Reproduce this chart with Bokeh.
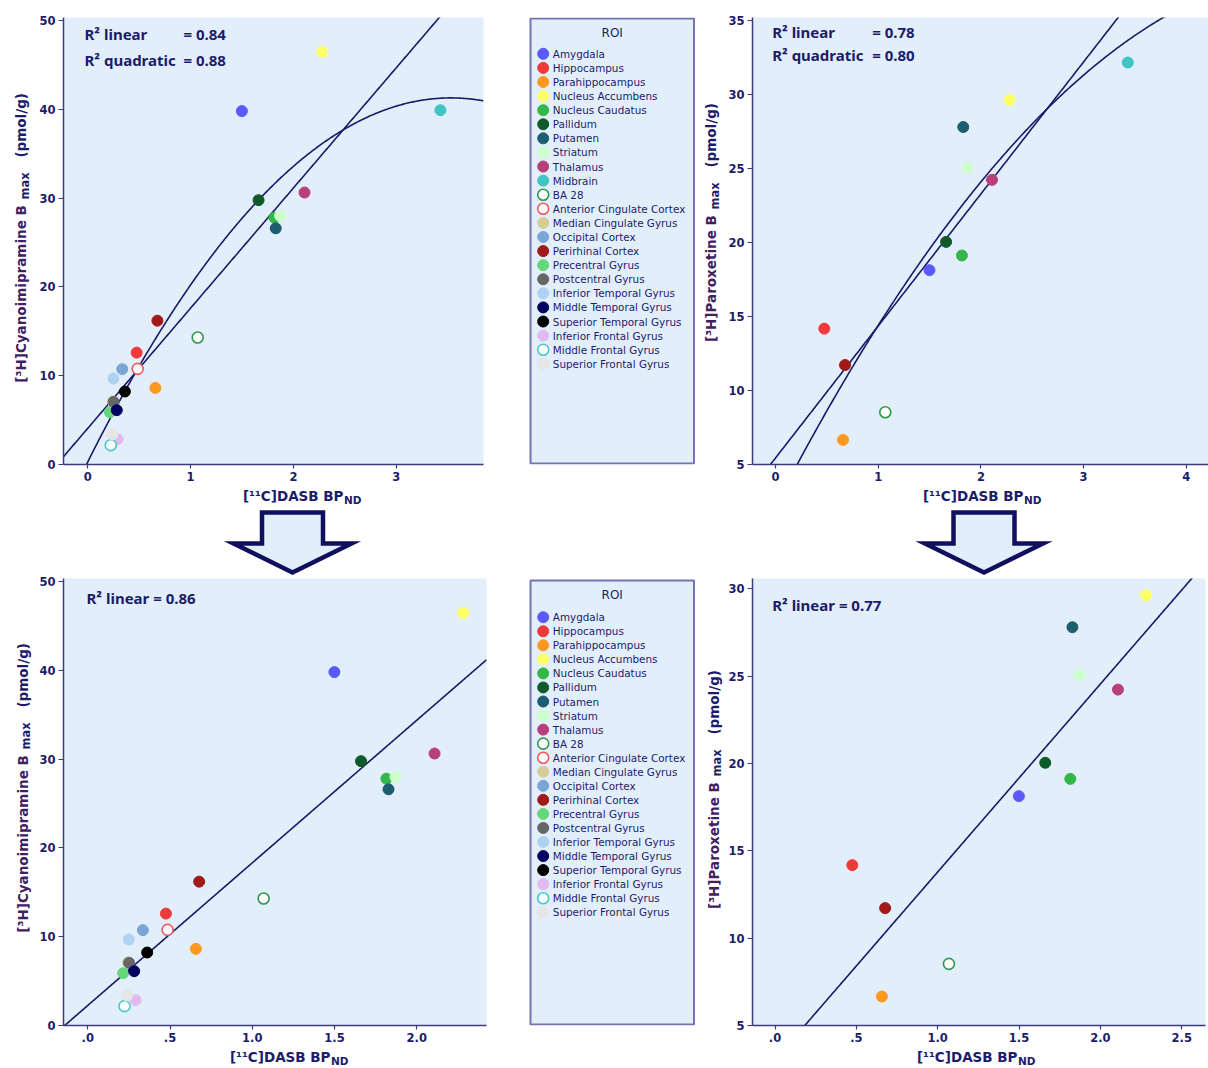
import math
import numpy as np
from bokeh.plotting import figure
from bokeh.layouts import row, column
from bokeh.models import Range1d, FixedTicker, Label, ColumnDataSource
from bokeh.embed import file_html
from bokeh.resources import INLINE
from bokeh.core.properties import value

# ---------------------------------------------------------------- data
roi = ["Amygdala", "Hippocampus", "Parahippocampus", "Nucleus Accumbens",
       "Nucleus Caudatus", "Pallidum", "Putamen", "Striatum", "Thalamus",
       "Midbrain", "BA 28", "Anterior Cingulate Cortex", "Median Cingulate  Gyrus",
       "Occipital Cortex", "Perirhinal Cortex", "Precentral Gyrus",
       "Postcentral Gyrus", "Inferior Temporal Gyrus", "Middle Temporal Gyrus",
       "Superior Temporal Gyrus", "Inferior Frontal Gyrus", "Middle Frontal Gyrus",
       "Superior Frontal Gyrus"]
roi_color = ["#5a5aff", "#ee3a3a", "#ff9820", "#ffff66", "#33b848", "#0f5a2a",
             "#1c5e70", "#ccffcc", "#b8407a", "#40c4c4", "#2f9950", "#ee5a5a",
             "#d6cc96", "#7aa6d6", "#a01a1a", "#66d67a", "#666666", "#b0d2f2",
             "#000060", "#000000", "#e0baf0", "#46caca", "#e6e6e6"]
roi_hollow = [False] * 10 + [True, True] + [False] * 9 + [True, False]

# [11C]DASB BPND per region
dasb_bpnd = [1.499, 0.475, 0.657, 2.282, 1.815, 1.661, 1.828, 1.870, 2.108,
             3.430, 1.069, 0.485, 0.245, 0.335, 0.677, 0.215, 0.251, 0.249,
             0.282, 0.361, 0.290, 0.223, 0.239]
# [3H]Cyanoimipramine Bmax (pmol/g)
cyano_bmax = [39.8, 12.6, 8.63, 46.47, 27.8, 29.77, 26.6, 28.0, 30.63,
              39.9, 14.3, 10.77, 7.1, 10.74, 16.2, 5.89, 7.06, 9.68,
              6.12, 8.22, 2.85, 2.18, 3.38]
# [3H]Paroxetine Bmax (pmol/g); None = not measured
parox_bmax = [18.13, 14.18, 6.66, 29.63, 19.12, 20.04, 27.8, 25.05, 24.23,
              32.16, 8.53, None, None, None, 11.72, None, None, None,
              None, None, None, None, None]

# fitted curves: coefficients in increasing power of x
cyano_linear_all = [4.08, 13.53]
cyano_quadratic_all = [0.30, 23.21, -3.286]
parox_linear_all = [5.44, 8.92]
parox_quadratic_all = [2.23, 13.41, -1.239]
cyano_linear_no_midbrain = [2.26, 16.06]
parox_linear_no_midbrain = [3.03, 10.76]

r2_cyano_all = ["0.84", "0.88"]
r2_parox_all = ["0.78", "0.80"]
r2_cyano_no_midbrain = "0.86"
r2_parox_no_midbrain = "0.77"

xticks_top_left = [0, 1, 2, 3]
xticks_top_right = [0, 1, 2, 3, 4]
xticks_bottom = [0.0, 0.5, 1.0, 1.5, 2.0, 2.5]
xtick_labels_bottom = [".0", ".5", "1.0", "1.5", "2.0", "2.5"]
yticks_cyano = [0, 10, 20, 30, 40, 50]
yticks_parox_top = [5, 10, 15, 20, 25, 30, 35]
yticks_parox_bottom = [5, 10, 15, 20, 25, 30]

# ---------------------------------------------------------------- style
NAVY = "#1c1c6a"
YLAB = "#40205f"
AXIS = "#3c3c7c"
FIT = "#1a1a66"
FRAME_BG = "#e3eefb"
BOX_LINE = "#7474b2"
TICK_FONT = "DejaVu Sans"
R2_FONT = "Noto Sans"

# page geometry (pixels)
PAGE_W = 1208
TOP_H = 487
MID_Y0, MID_H = 487, 89
BOT_H = 470
FOOT_Y0, FOOT_H = 1046, 22
YLAB_W, LEFT_W, LEG_W, RIGHT_W = 33, 472, 220, 483
LEG_X0 = YLAB_W + LEFT_W
TOP_FRAME = (17, 464)
BOT_FRAME = (578, 1025)


def blank(w, h, x0, y_top, y_bottom, bt=0, bb=0):
    """Axis-less figure whose data units equal page pixels."""
    p = figure(width=w, height=h, x_range=Range1d(x0, x0 + w),
               y_range=Range1d(y_bottom, y_top), min_border_left=0,
               min_border_right=0, min_border_top=bt, min_border_bottom=bb,
               x_axis_location=None, y_axis_location=None,
               toolbar_location=None, output_backend="svg", title=None)
    p.outline_line_color = None
    p.xgrid.grid_line_color = None
    p.ygrid.grid_line_color = None
    p.background_fill_color = "white"
    p.border_fill_color = "white"
    return p


def put_text(p, x, y, text, size, font=TICK_FONT, style="bold", color=NAVY,
             align="left", baseline="middle", angle=0.0):
    p.text(x=[x], y=[y], text=[text], angle=angle, text_font=value(font),
           text_font_size=f"{size}px", text_font_style=style, text_color=color,
           text_align=align, text_baseline=baseline)


def add_ylabel(p, xm, yb, main):
    # main part ends at yb (text runs upwards), subscript follows, then units
    put_text(p, xm, yb, main, 13.5, color=YLAB, align="right", angle=math.pi / 2)
    put_text(p, xm + 3.7, yb - 1, "max", 11.5, align="left", angle=math.pi / 2)
    w_max = 2.43 * 11.5
    put_text(p, xm, yb - 1 - w_max - 14, "(pmol/g)", 13.5, align="left",
             angle=math.pi / 2)


def add_xlabel(p, xe, ym):
    put_text(p, xe, ym, "[\u00b9\u00b9C]DASB BP", 13.5, align="right")
    put_text(p, xe + 0.5, ym + 4, "ND", 10.5)


def make_panel(w, h, bl, br, bt, bb, xr, yr, xticks, yticks, xlabels=None):
    p = figure(width=w, height=h, x_range=Range1d(*xr), y_range=Range1d(*yr),
               min_border_left=bl, min_border_right=br, min_border_top=bt,
               min_border_bottom=bb, toolbar_location=None, output_backend="svg",
               title=None)
    p.background_fill_color = FRAME_BG
    p.border_fill_color = "white"
    p.outline_line_color = None
    p.xgrid.grid_line_color = None
    p.ygrid.grid_line_color = None
    p.xaxis.ticker = FixedTicker(ticks=xticks)
    p.yaxis.ticker = FixedTicker(ticks=yticks)
    if xlabels is not None:
        p.xaxis.major_label_overrides = {t: s for t, s in zip(xticks, xlabels)}
    for ax in (p.xaxis[0], p.yaxis[0]):
        ax.axis_line_color = AXIS
        ax.axis_line_width = 1.5
        ax.major_tick_line_color = AXIS
        ax.major_tick_line_width = 1.2
        ax.major_tick_out = 5
        ax.major_tick_in = 0
        ax.minor_tick_line_color = None
        ax.major_label_text_font = TICK_FONT
        ax.major_label_text_font_size = "11.5px"
        ax.major_label_text_font_style = "bold"
        ax.major_label_text_color = NAVY
        ax.major_label_standoff = 3
    p.xaxis.major_tick_out = 4
    return p


def page_to_data(frame_x, frame_y, xr, yr):
    fl, fr = frame_x
    ft, fb = frame_y

    def conv(px, py):
        return (xr[0] + (px - fl) / (fr - fl) * (xr[1] - xr[0]),
                yr[0] + (fb - py) / (fb - ft) * (yr[1] - yr[0]))
    return conv


def add_r2(p, conv, px, py, text):
    x, y = conv(px, py - 1.5)
    p.add_layout(Label(x=x, y=y, text=text, text_font=R2_FONT, text_font_size="15px",
                       text_font_style="bold", text_color=NAVY, text_align="left",
                       text_baseline="middle"))


def add_points(p, xs, ys, idx):
    keep = [i for i in idx if ys[i] is not None]
    src = ColumnDataSource(dict(
        x=[xs[i] for i in keep],
        y=[ys[i] for i in keep],
        fill=["white" if roi_hollow[i] else roi_color[i] for i in keep],
        line=[roi_color[i] for i in keep],
        lw=[1.6 if roi_hollow[i] else 1.0 for i in keep],
    ))
    p.scatter("x", "y", source=src, size=11, fill_color="fill", line_color="line",
              line_width="lw")


def add_fit(p, coeffs, xr):
    xs = np.linspace(xr[0], xr[1], 400)
    ys = sum(c * xs ** k for k, c in enumerate(coeffs))
    p.line(xs, ys, line_color=FIT, line_width=1.6)


all_idx = list(range(len(roi)))
no_mid_idx = [i for i in all_idx if roi[i] != "Midbrain"]

# ---------------------------------------------------------------- top left panel
xr_tl, yr_tl = (-0.2364, 3.849), (0.0, 50.34)
tl = make_panel(LEFT_W, TOP_H, 30, 22, 17, 23, xr_tl, yr_tl, xticks_top_left, yticks_cyano)
c_tl = page_to_data((63, 483), TOP_FRAME, xr_tl, yr_tl)
add_fit(tl, cyano_linear_all, xr_tl)
add_fit(tl, cyano_quadratic_all, xr_tl)
add_points(tl, dasb_bpnd, cyano_bmax, all_idx)
add_r2(tl, c_tl, 84, 35, "R\u00b2 linear")
add_r2(tl, c_tl, 183, 35, "= " + r2_cyano_all[0])
add_r2(tl, c_tl, 84, 60.5, "R\u00b2 quadratic")
add_r2(tl, c_tl, 183, 60.5, "= " + r2_cyano_all[1])

# ---------------------------------------------------------------- top right panel
xr_tr, yr_tr = (-0.224, 4.216), (5.0, 35.2)
tr = make_panel(RIGHT_W, TOP_H, 27, 0, 17, 23, xr_tr, yr_tr, xticks_top_right,
                yticks_parox_top)
c_tr = page_to_data((752, 1208), TOP_FRAME, xr_tr, yr_tr)
add_fit(tr, parox_linear_all, xr_tr)
add_fit(tr, parox_quadratic_all, xr_tr)
add_points(tr, dasb_bpnd, parox_bmax, all_idx)
add_r2(tr, c_tr, 771.7, 33.3, "R\u00b2 linear")
add_r2(tr, c_tr, 871.7, 33.3, "= " + r2_parox_all[0])
add_r2(tr, c_tr, 771.7, 56, "R\u00b2 quadratic")
add_r2(tr, c_tr, 871.7, 56, "= " + r2_parox_all[1])

# ---------------------------------------------------------------- bottom left panel
xr_bl, yr_bl = (-0.1477, 2.4237), (0.0, 50.34)
bl = make_panel(LEFT_W, BOT_H, 30, 19, 2, 21, xr_bl, yr_bl, xticks_bottom, yticks_cyano,
                xtick_labels_bottom)
c_bl = page_to_data((63, 486), BOT_FRAME, xr_bl, yr_bl)
add_fit(bl, cyano_linear_no_midbrain, xr_bl)
add_points(bl, dasb_bpnd, cyano_bmax, no_mid_idx)
add_r2(bl, c_bl, 86, 599, "R\u00b2 linear = " + r2_cyano_no_midbrain)

# ---------------------------------------------------------------- bottom right panel
xr_br, yr_br = (-0.1383, 2.646), (5.0, 30.59)
br = make_panel(RIGHT_W, BOT_H, 27, 3, 2, 21, xr_br, yr_br, xticks_bottom,
                yticks_parox_bottom, xtick_labels_bottom)
c_br = page_to_data((752, 1205), BOT_FRAME, xr_br, yr_br)
add_fit(br, parox_linear_no_midbrain, xr_br)
add_points(br, dasb_bpnd, parox_bmax, no_mid_idx)
add_r2(br, c_br, 771.7, 605.7, "R\u00b2 linear = " + r2_parox_no_midbrain)

# ---------------------------------------------------------------- y-axis titles on the left
ylab_top = blank(YLAB_W, TOP_H, 0, TOP_FRAME[0], TOP_FRAME[1], 17, 23)
add_ylabel(ylab_top, 20.5, 200, "[\u00b3H]Cyanoimipramine  B")
ylab_bot = blank(YLAB_W, BOT_H, 0, BOT_FRAME[0], BOT_FRAME[1], 2, 21)
add_ylabel(ylab_bot, 22.0, 750, "[\u00b3H]Cyanoimipramine  B")


# ---------------------------------------------------------------- legends
def make_legend(h, frame, bt, bb, box_top, box_bottom, title_y, first_y, step, idx):
    p = blank(LEG_W, h, LEG_X0, frame[0], frame[1], bt, bb)
    p.quad(left=[530], right=[693.5], top=[box_top], bottom=[box_bottom],
           fill_color=FRAME_BG, line_color=BOX_LINE, line_width=2)
    p.text(x=[611.7], y=[title_y], text=["ROI"], text_font=value("DejaVu Sans"),
           text_font_size="12px", text_color=NAVY, text_align="center",
           text_baseline="middle")
    ys = [first_y + k * step for k in range(len(idx))]
    src = ColumnDataSource(dict(
        x=[542.7] * len(idx), tx=[552.3] * len(idx), y=ys,
        name=[roi[i] for i in idx],
        fill=["white" if roi_hollow[i] else roi_color[i] for i in idx],
        line=[roi_color[i] for i in idx],
        lw=[1.6 if roi_hollow[i] else 1.0 for i in idx],
    ))
    p.scatter("x", "y", source=src, size=11, fill_color="fill", line_color="line",
              line_width="lw")
    p.text("tx", "y", text="name", source=src, text_font=value("DejaVu Sans"),
           text_font_size="10.4px", text_color=NAVY, text_baseline="middle")
    return p


leg_top = make_legend(TOP_H, TOP_FRAME, 17, 23, 18, 463, 32.7, 53.3, 14.09, all_idx)
add_ylabel(leg_top, 710.8, 210, "[\u00b3H]Paroxetine  B")
leg_bot = make_legend(BOT_H, BOT_FRAME, 2, 21, 580, 1024, 594.3, 616.7, 14.05, no_mid_idx)
add_ylabel(leg_bot, 713.0, 777, "[\u00b3H]Paroxetine  B")

# ---------------------------------------------------------------- strip with x titles and arrows
strip = blank(PAGE_W, MID_H, 0, MID_Y0, MID_Y0 + MID_H)
add_xlabel(strip, 343, 495)
add_xlabel(strip, 1023, 495)

arrow_centres = [292.0, 983.5]
stem_half, head_half = 30.5, 59.0
stem_top, shoulder, tip = 512.0, 543.0, 572.0
axs, ays = [], []
for cx in arrow_centres:
    axs.append([cx - stem_half, cx + stem_half, cx + stem_half, cx + head_half, cx,
                cx - head_half, cx - stem_half])
    ays.append([stem_top, stem_top, shoulder, shoulder, tip, shoulder, shoulder])
strip.patches(axs, ays, fill_color=FRAME_BG, line_color="#10105e", line_width=4.5,
              line_join="miter")

# ---------------------------------------------------------------- x titles of the lower row
foot = blank(PAGE_W, FOOT_H, 0, FOOT_Y0, FOOT_Y0 + FOOT_H)
add_xlabel(foot, 330, 1056.5)
add_xlabel(foot, 1017, 1056.5)

layout = column(row(ylab_top, tl, leg_top, tr), strip,
                row(ylab_bot, bl, leg_bot, br), foot)

open("out.html", "w").write(file_html(layout, INLINE))
